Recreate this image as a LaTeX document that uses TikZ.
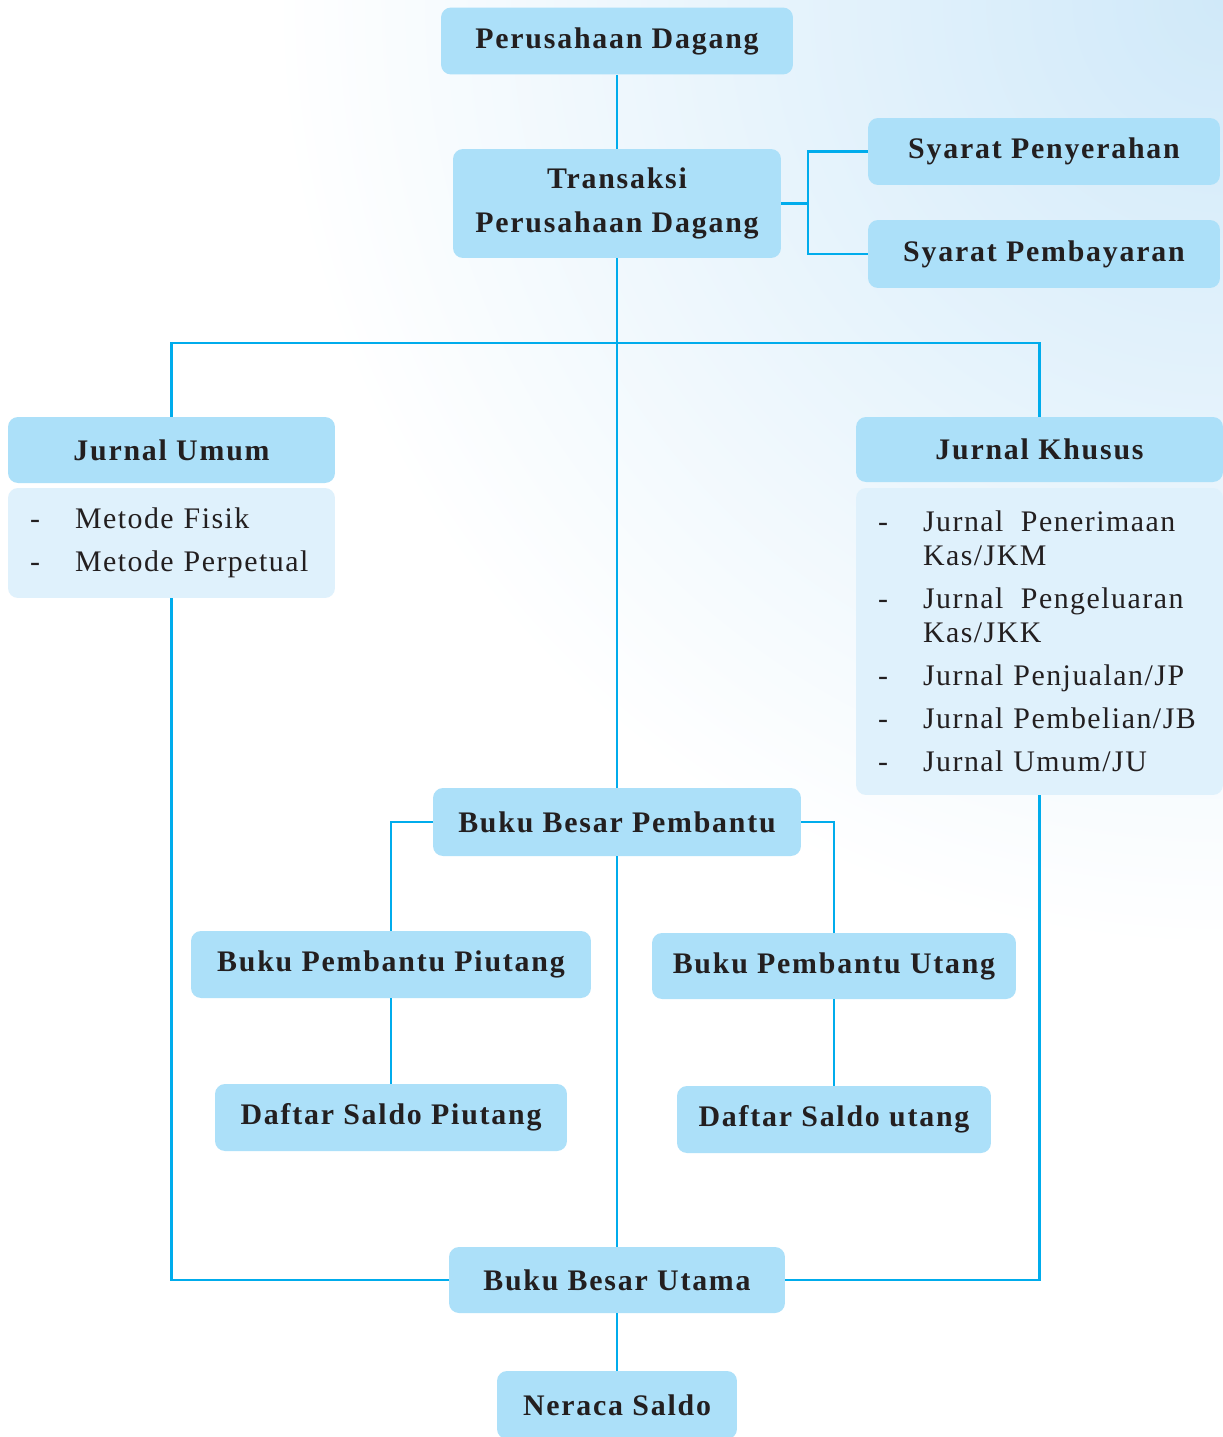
\documentclass[tikz,border=0pt]{standalone}
\usepackage{fontspec}
\setmainfont{Liberation Serif}
\usepackage{tikz}

\definecolor{boxblue}{RGB}{172,224,249}
\definecolor{listblue}{RGB}{223,241,252}
\definecolor{linkblue}{RGB}{0,172,236}
\definecolor{inkgray}{RGB}{35,31,32}
\definecolor{skyglow}{RGB}{208,233,249}

\tikzset{
  box/.style={fill=boxblue, rounded corners=0.2cm, inner sep=0pt, text=inkgray, align=center,
    font=\fontsize{17}{25}\selectfont\bfseries\addfontfeature{LetterSpace=6}},
  listbox/.style={fill=listblue, rounded corners=0.2cm, inner xsep=0.44cm, inner ysep=0pt, text=inkgray, align=left,
    font=\fontsize{17}{19.4}\selectfont\addfontfeature{LetterSpace=5}},
  link/.style={linkblue, line width=1.2pt},
}
\newcommand{\itemdash}{\makebox[0.9cm][l]{-}}
\newcommand{\itemgap}{\hspace*{0.9cm}}

\begin{document}
\begin{tikzpicture}[x=0.02cm,y=-0.02cm]
\useasboundingbox (0,0) rectangle (1223,1437);
\fill[white] (0,0) rectangle (1223,1437);
\begin{scope}
\clip (0,0) rectangle (1223,1437);
\shade[inner color=skyglow, outer color=white] (1223,0) circle (19cm);
\end{scope}

% top
\node[box, minimum width=7.04cm, minimum height=1.34cm] (pd) at (617,41) {Perusahaan Dagang};
\node[box, minimum width=6.56cm, minimum height=2.18cm] (tpd) at (617,203.5) {Transaksi\\Perusahaan Dagang};
\node[box, minimum width=7.04cm, minimum height=1.34cm] (sp) at (1044,151.5) {Syarat Penyerahan};
\node[box, minimum width=7.04cm, minimum height=1.36cm] (sb) at (1044,254) {Syarat Pembayaran};

% jurnal
\node[box, minimum width=6.54cm, minimum height=1.32cm] (ju) at (171.5,450) {Jurnal Umum};
\node[listbox, text width=5.66cm, minimum height=2.2cm] (jul) at (171.5,543)
  {\itemdash Metode Fisik\\[0.18cm]\itemdash Metode Perpetual};
\node[box, minimum width=7.34cm, minimum height=1.3cm] (jk) at (1039.5,449.5) {Jurnal Khusus};
\node[listbox, text width=6.46cm, minimum height=6.14cm] (jkl) at (1039.5,641.5)
  {\itemdash Jurnal\hspace{0.15cm} Penerimaan\\\itemgap Kas/JKM\\[0.18cm]
   \itemdash Jurnal\hspace{0.15cm} Pengeluaran\\\itemgap Kas/JKK\\[0.18cm]
   \itemdash Jurnal Penjualan/JP\\[0.18cm]
   \itemdash Jurnal Pembelian/JB\\[0.18cm]
   \itemdash Jurnal Umum/JU};

% buku besar
\node[box, minimum width=7.36cm, minimum height=1.36cm] (bbp) at (617,822) {Buku Besar Pembantu};
\node[box, minimum width=8cm, minimum height=1.34cm] (bpp) at (391,964.5) {Buku Pembantu Piutang};
\node[box, minimum width=7.28cm, minimum height=1.32cm] (bpu) at (834,966) {Buku Pembantu Utang};
\node[box, minimum width=7.04cm, minimum height=1.34cm] (dsp) at (391,1117.5) {Daftar Saldo Piutang};
\node[box, minimum width=6.28cm, minimum height=1.34cm] (dsu) at (834,1119.5) {Daftar Saldo utang};
\node[box, minimum width=6.72cm, minimum height=1.32cm] (bbu) at (617,1280) {Buku Besar Utama};
\node[box, minimum width=4.8cm, minimum height=1.36cm] (ns) at (617,1405) {Neraca Saldo};

\coordinate (tsplit) at (808,203.5);
\coordinate (jsplit) at (617,343);

\draw[link] (pd) -- (tpd);
\draw[link] (tpd.east) -- (tsplit) |- (sp.west);
\draw[link] (tsplit) |- (sb.west);
\draw[link] (ju.north) |- (jsplit) -| (jk.north);
\draw[link] (tpd) -- (bbp);
\draw[link] (bbp.west) -| (bpp.north);
\draw[link] (bbp.east) -| (bpu.north);
\draw[link] (bpp) -- (dsp);
\draw[link] (bpu) -- (dsu);
\draw[link] (bbp) -- (bbu);
\draw[link] (jul.south) |- (bbu.west);
\draw[link] (jkl.south) |- (bbu.east);
\draw[link] (bbu) -- (ns);
\end{tikzpicture}
\end{document}
